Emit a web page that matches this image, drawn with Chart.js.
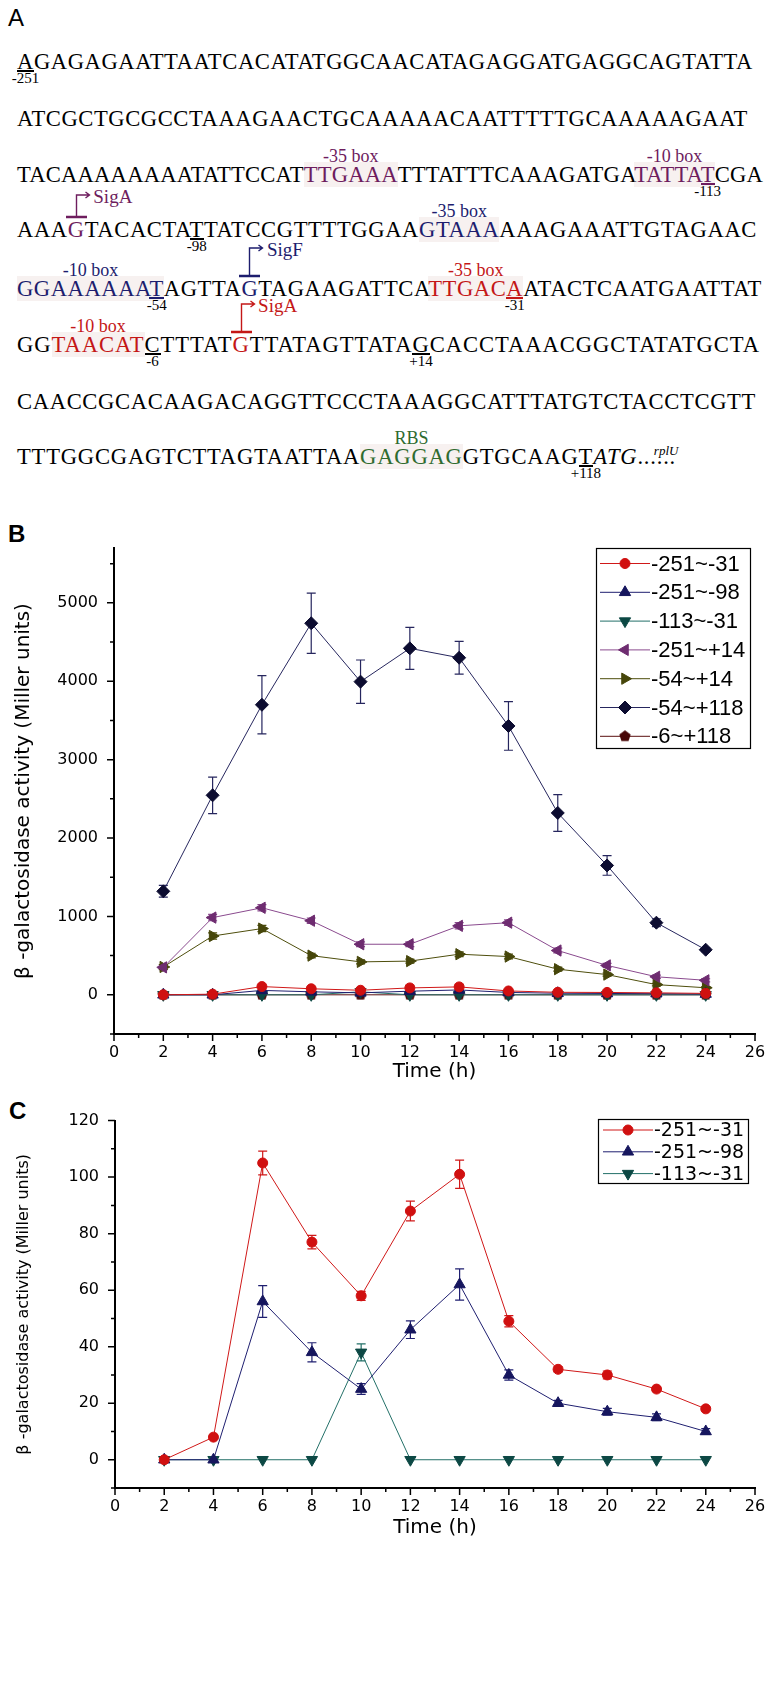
<!DOCTYPE html>
<html>
<head>
<meta charset="utf-8">
<script src="https://cdn.jsdelivr.net/npm/chart.js@4.4.1/dist/chart.umd.min.js"></script>
<style>
  html, body { margin: 0; padding: 0; background: #fff; }
  body { width: 775px; height: 1707px; position: relative; overflow: hidden; }
  .panel { position: absolute; font-family: "Liberation Sans", Arial, sans-serif; font-size: 24px; line-height: 1; color: #000; }
  .row { position: absolute; left: 17px; font-family: "Liberation Serif", "Times New Roman", serif; font-size: 22.6px;
         line-height: 1; white-space: nowrap; color: #000; }
  .box, .u, .tss, .dots { position: relative; }
  .box { background: rgba(228, 210, 206, 0.3); }
  .above { position: absolute; left: 50%; transform: translateX(-50%); top: -15px; font-size: 18px; line-height: 1; white-space: nowrap; letter-spacing: 0; }
  .below { position: absolute; left: 50%; transform: translateX(-50%); top: 22px; font-size: 15px; line-height: 1; color: #000; white-space: nowrap; letter-spacing: 0; }
  .u::after { content: ""; position: absolute; left: 0; right: 0; top: 21px; height: 1.5px; background: currentColor; }
  .sig { position: absolute; font-size: 19px; line-height: 1; white-space: nowrap; letter-spacing: 0; }
  .sup { position: absolute; left: 10px; top: 0; font-size: 13px; font-style: italic; line-height: 1; letter-spacing: 0; }
  .pu { color: #6e1d5e; }
  .nv { color: #1d1d6e; }
  .re { color: #c41717; }
  .gr { color: #2f6b2f; }
  canvas { position: absolute; left: 0; }
</style>
</head>
<body>

<div class="panel" style="left:8px; top:6px;">A</div>

<div class="row" data-end="753" style="top:51px"><span class="u">A<span class="below">-251</span></span>GAGAGAATTAATCACATATGGCAACATAGAGGATGAGGCAGTATTA</div>
<div class="row" data-end="748" style="top:108px">ATCGCTGCGCCTAAAGAACTGCAAAAACAATTTTTGCAAAAAGAAT</div>
<div class="row" data-end="763" style="top:164px">TACAAAAAAAATATTCCAT<span class="box pu">TTGAAA<span class="above">-35 box</span></span>TTTATTTCAAAGATGA<span class="box pu">TATTA<span class="u">T<span class="below">-113</span></span><span class="above">-10 box</span></span>CGA</div>
<div class="row" data-end="757" style="top:219px">AAA<span class="tss pu" data-h="21" data-label="SigA">G</span>TACACTA<span class="u">T<span class="below">-98</span></span>TATCCGTTTTGGAA<span class="box nv">GTAAA<span class="above">-35 box</span></span>AAAGAAATTGTAGAAC</div>
<div class="row" data-end="762" style="top:278px"><span class="box nv">GGAAAAAA<span class="u">T<span class="below">-54</span></span><span class="above">-10 box</span></span>AGTTA<span class="tss nv" data-h="27" data-label="SigF">G</span>TAGAAGATTCA<span class="box re">TTGAC<span class="u">A<span class="below">-31</span></span><span class="above">-35 box</span></span>ATACTCAATGAATTAT</div>
<div class="row" data-end="760" style="top:334px">GG<span class="box re">TAACAT<span class="above">-10 box</span></span><span class="u">C<span class="below">-6</span></span>TTTAT<span class="tss re" data-h="27" data-label="SigA">G</span>TTATAGTTATA<span class="u">G<span class="below">+14</span></span>CACCTAAACGGCTATATGCTA</div>
<div class="row" data-end="756" style="top:391px">CAACCGCACAAGACAGGTTCCCTAAAGGCATTTATGTCTACCTCGTT</div>
<div class="row" data-end="676" style="top:446px">TTTGGCGAGTCTTAGTAATTAA<span class="box gr">GAGGAG<span class="above">RBS</span></span>GTGCAAG<span class="u">T<span class="below">+118</span></span><i>ATG</i>.<span class="dots">.....<span class="sup">rplU</span></span></div>

<div class="panel" style="left:8px; top:522px; font-weight:bold;">B</div>
<canvas id="chartB" width="775" height="575" style="top:520px"></canvas>

<div class="panel" style="left:9px; top:1099px; font-weight:bold;">C</div>
<canvas id="chartC" width="775" height="455" style="top:1095px"></canvas>

<script>
// Sampling times (h)
const hours = [2, 4, 6, 8, 10, 12, 14, 16, 18, 20, 22, 24];

// Labelled tick values
const xTicks = [0, 2, 4, 6, 8, 10, 12, 14, 16, 18, 20, 22, 24, 26];
const bTicks = [0, 1000, 2000, 3000, 4000, 5000];
const cTicks = [0, 20, 40, 60, 80, 100, 120];

// Minor tick values
const xMinorTicks = [1, 3, 5, 7, 9, 11, 13, 15, 17, 19, 21, 23, 25];
const bMinorTicks = [-500, 500, 1500, 2500, 3500, 4500, 5500];
const cMinorTicks = [-10, 10, 30, 50, 70, 90, 110];

// Series values (Miller units) and their error bars
const s251to31 = [0, 8, 105, 77, 58, 88, 101, 49, 32, 30, 25, 18];
const s251to31Err = [0, 0.5, 4.2, 2.4, 1.6, 3.5, 5, 2, 0.9, 1.4, 0.9, 0.5];
const s251to98 = [0, 0, 56, 38, 25, 46, 62, 30, 20, 17, 15, 10];
const s251to98Err = [0, 0, 5.6, 3.4, 1.9, 3.1, 5.5, 1.8, 1, 1.2, 1.2, 1];
const s113to31 = [0, 0, 0, 0, 38, 0, 0, 0, 0, 0, 0, 0];
const s113to31Err = [0, 0, 0, 0, 3, 0, 0, 0, 0, 0, 0, 0];
const s251to14 = [350, 985, 1110, 945, 645, 645, 880, 920, 565, 375, 230, 185];
const s251to14Err = [30, 40, 40, 35, 30, 30, 40, 35, 30, 25, 20, 20];
const s54to14 = [355, 750, 845, 500, 420, 430, 518, 488, 327, 258, 130, 90];
const s54to14Err = [30, 40, 40, 30, 25, 25, 30, 30, 25, 20, 15, 15];
const s54to118 = [1320, 2545, 3700, 4740, 3995, 4420, 4300, 3430, 2320, 1650, 920, 575];
const s54to118Err = [75, 233, 371, 384, 276, 268, 210, 310, 235, 125, 50, 25];
const s6to118 = [0, 0, 0, 0, 0, 0, 0, 0, 0, 0, 0, 0];

/**
 * Stretch each sequence row so it ends where the original row ends
 */
function fitRows() {
  document.querySelectorAll('.row').forEach(row => {
    const clone = row.cloneNode(true);
    clone.querySelectorAll('.above, .below, .sig, .sup').forEach(n => n.remove());
    const count = clone.textContent.length;
    const natural = row.getBoundingClientRect().width;
    const target = +row.dataset.end - 17;
    row.style.letterSpacing = ((target - natural) / count).toFixed(3) + 'px';
  });
}

/**
 * Promoter arrows (bar over the start base, bent arrow and sigma label)
 */
function drawPromoters() {
  const ns = 'http://www.w3.org/2000/svg';
  document.querySelectorAll('.tss').forEach(el => {
    const h = +el.dataset.h;
    const w = el.offsetWidth;
    const cx = w / 2 + 2;
    const svg = document.createElementNS(ns, 'svg');
    svg.setAttribute('width', w + 30);
    svg.setAttribute('height', h + 8);
    svg.style.cssText = `position:absolute;left:-2px;top:${-(h + 4)}px;overflow:visible`;
    const bar = document.createElementNS(ns, 'path');
    bar.setAttribute('d', `M0 ${h + 4} H${w + 4}`);
    bar.setAttribute('stroke', 'currentColor');
    bar.setAttribute('stroke-width', '2.5');
    const arrow = document.createElementNS(ns, 'path');
    arrow.setAttribute('d', `M${cx} ${h + 4} V3 H${cx + 13} M${cx + 9} 0 L${cx + 13} 3 L${cx + 9} 6`);
    arrow.setAttribute('stroke', 'currentColor');
    arrow.setAttribute('stroke-width', '1.4');
    arrow.setAttribute('fill', 'none');
    svg.appendChild(bar);
    svg.appendChild(arrow);
    el.appendChild(svg);

    const label = document.createElement('span');
    label.className = 'sig';
    label.textContent = el.dataset.label;
    label.style.left = (w / 2 + 17) + 'px';
    label.style.top = (-h - 9) + 'px';
    el.appendChild(label);
  });
}

/**
 * Pentagon marker used by the -6~+118 series
 */
function pentagon(color, r) {
  const c = document.createElement('canvas');
  c.width = c.height = 2 * r + 4;
  const ctx = c.getContext('2d');
  ctx.fillStyle = color;
  ctx.beginPath();
  for (let k = 0; k < 5; k++) {
    const a = -Math.PI / 2 + k * 2 * Math.PI / 5;
    const px = r + 2 + r * Math.cos(a);
    const py = r + 2 + r * Math.sin(a);
    if (k === 0) ctx.moveTo(px, py); else ctx.lineTo(px, py);
  }
  ctx.closePath();
  ctx.fill();
  return c;
}

function series(label, values, errors, style) {
  return {
    label,
    data: hours.map((h, i) => ({ x: h, y: values[i] })),
    errors,
    borderColor: style.line,
    backgroundColor: style.mark,
    pointBackgroundColor: style.mark,
    pointBorderColor: style.mark,
    pointStyle: style.shape,
    pointRotation: style.rotation || 0,
    pointRadius: style.radius,
    pointHoverRadius: style.radius,
    borderWidth: 1,
    tension: 0,
    fill: false,
  };
}

// Error bars drawn below the markers
const errorBars = {
  id: 'errorBars',
  beforeDatasetsDraw(chart) {
    const { ctx, scales: { x, y } } = chart;
    ctx.save();
    ctx.lineWidth = 1.2;
    chart.data.datasets.forEach(ds => {
      if (!ds.errors) return;
      ctx.strokeStyle = ds.borderColor;
      ds.data.forEach((pt, i) => {
        const e = ds.errors[i];
        if (!e) return;
        const px = x.getPixelForValue(pt.x);
        const top = y.getPixelForValue(pt.y + e);
        const bot = y.getPixelForValue(pt.y - e);
        ctx.beginPath();
        ctx.moveTo(px, top);
        ctx.lineTo(px, bot);
        ctx.moveTo(px - 4.5, top);
        ctx.lineTo(px + 4.5, top);
        ctx.moveTo(px - 4.5, bot);
        ctx.lineTo(px + 4.5, bot);
        ctx.stroke();
      });
    });
    ctx.restore();
  },
};

// Outward major and minor tick marks
const axisTicks = {
  id: 'axisTicks',
  afterDraw(chart, args, o) {
    const { ctx, chartArea, scales: { x, y } } = chart;
    ctx.save();
    ctx.strokeStyle = '#000';
    ctx.lineWidth = 1.5;
    ctx.beginPath();
    x.ticks.forEach(t => {
      const p = x.getPixelForValue(t.value);
      ctx.moveTo(p, chartArea.bottom);
      ctx.lineTo(p, chartArea.bottom + o.major);
    });
    o.xMinor.forEach(v => {
      const p = x.getPixelForValue(v);
      ctx.moveTo(p, chartArea.bottom);
      ctx.lineTo(p, chartArea.bottom + o.minor);
    });
    y.ticks.forEach(t => {
      const p = y.getPixelForValue(t.value);
      ctx.moveTo(chartArea.left, p);
      ctx.lineTo(chartArea.left - o.major, p);
    });
    o.yMinor.forEach(v => {
      const p = y.getPixelForValue(v);
      ctx.moveTo(chartArea.left, p);
      ctx.lineTo(chartArea.left - o.minor, p);
    });
    ctx.stroke();
    ctx.restore();
  },
};

// Framed legend with a line through each marker
const boxLegend = {
  id: 'boxLegend',
  afterDraw(chart, args, o) {
    const ctx = chart.ctx;
    ctx.save();
    ctx.fillStyle = '#fff';
    ctx.fillRect(o.left, o.top, o.width, o.height);
    ctx.strokeStyle = '#000';
    ctx.lineWidth = 1.2;
    ctx.strokeRect(o.left + 0.5, o.top + 0.5, o.width, o.height);
    ctx.font = o.font;
    ctx.textBaseline = 'middle';
    chart.data.datasets.forEach((ds, i) => {
      const y = o.firstRow + i * o.rowHeight;
      ctx.strokeStyle = ds.borderColor;
      ctx.lineWidth = 1;
      ctx.beginPath();
      ctx.moveTo(o.lineFrom, y);
      ctx.lineTo(o.lineTo, y);
      ctx.stroke();
      ctx.fillStyle = ds.pointBackgroundColor;
      ctx.strokeStyle = ds.pointBorderColor;
      Chart.helpers.drawPoint(ctx, {
        pointStyle: ds.pointStyle,
        rotation: ds.pointRotation,
        radius: ds.pointRadius,
        borderWidth: 1,
      }, (o.lineFrom + o.lineTo) / 2, y);
      ctx.fillStyle = '#000';
      ctx.fillText(ds.label, o.textX, y + 1);
    });
    ctx.restore();
  },
};

const styles = {
  red: { line: '#d01818', mark: '#d01010', shape: 'circle', radius: 5 },
  navy: { line: '#1f1f70', mark: '#16165e', shape: 'triangle', radius: 6.5 },
  teal: { line: '#237068', mark: '#0c4844', shape: 'triangle', rotation: 180, radius: 6.5 },
  purple: { line: '#8a4a8e', mark: '#6e2c70', shape: 'triangle', rotation: -90, radius: 6.5 },
  olive: { line: '#4e4e0c', mark: '#46460a', shape: 'triangle', rotation: 90, radius: 6.5 },
  diamond: { line: '#26265e', mark: '#0c0c30', shape: 'rectRot', radius: 6.5 },
  brown: { line: '#5a1010', mark: '#480606', shape: pentagon('#480606', 6), radius: 6 },
};

function axes(yMin, yMax, yTicks, yWidth, xHeight, titleBottom, yTitleSize) {
  const family = '"DejaVu Sans", Verdana, sans-serif';
  const tickFont = { family, size: 16 };
  return {
    x: {
      type: 'linear',
      bounds: 'data',
      min: 0,
      max: 26,
      afterBuildTicks(scale) { scale.ticks = xTicks.map(v => ({ value: v })); },
      ticks: { autoSkip: false, maxRotation: 0, color: '#000', font: tickFont, padding: 9, callback: v => String(v) },
      grid: { drawOnChartArea: false, drawTicks: false },
      border: { display: true, color: '#000', width: 2 },
      title: { display: true, text: 'Time (h)', color: '#000', font: { family, size: 20 }, padding: { top: 0, bottom: titleBottom } },
      afterFit(scale) { scale.height = xHeight; },
    },
    y: {
      type: 'linear',
      bounds: 'data',
      min: yMin,
      max: yMax,
      afterBuildTicks(scale) { scale.ticks = yTicks.map(v => ({ value: v })); },
      ticks: { autoSkip: false, color: '#000', font: tickFont, padding: 16, callback: v => String(v) },
      grid: { drawOnChartArea: false, drawTicks: false },
      border: { display: true, color: '#000', width: 2 },
      title: {
        display: true,
        text: 'β -galactosidase activity (Miller units)',
        color: '#000',
        font: { family, size: yTitleSize },
        padding: { top: 24 - yTitleSize * 0.6, bottom: 0 },
      },
      afterFit(scale) { scale.width = yWidth; },
    },
  };
}

function initCharts() {
  fitRows();
  drawPromoters();

  new Chart(document.getElementById('chartB'), {
    type: 'line',
    data: {
      datasets: [
        series('-251~-31', s251to31, s251to31Err, styles.red),
        series('-251~-98', s251to98, s251to98Err, styles.navy),
        series('-113~-31', s113to31, s113to31Err, styles.teal),
        series('-251~+14', s251to14, s251to14Err, styles.purple),
        series('-54~+14', s54to14, s54to14Err, styles.olive),
        series('-54~+118', s54to118, s54to118Err, styles.diamond),
        series('-6~+118', s6to118, null, styles.brown),
      ],
    },
    options: {
      responsive: false,
      animation: false,
      layout: { padding: { top: 28, right: 20, bottom: 0, left: 0 } },
      scales: axes(-500, 5700, bTicks, 114, 61, 11, 20),
      plugins: {
        legend: { display: false },
        tooltip: { enabled: false },
        axisTicks: { major: 7, minor: 4, xMinor: xMinorTicks, yMinor: bMinorTicks },
        boxLegend: {
          left: 596, top: 28, width: 154, height: 200,
          firstRow: 43.5, rowHeight: 28.8,
          lineFrom: 600, lineTo: 650, textX: 651,
          font: '22px "Liberation Sans", Arial, sans-serif',
        },
      },
    },
    plugins: [errorBars, axisTicks, boxLegend],
  });

  new Chart(document.getElementById('chartC'), {
    type: 'line',
    data: {
      datasets: [
        series('-251~-31', s251to31, s251to31Err, styles.red),
        series('-251~-98', s251to98, s251to98Err, styles.navy),
        series('-113~-31', s113to31, s113to31Err, styles.teal),
      ],
    },
    options: {
      responsive: false,
      animation: false,
      layout: { padding: { top: 21, right: 20, bottom: 0, left: 0 } },
      scales: axes(-10, 120, cTicks, 115, 62, 10, 16),
      plugins: {
        legend: { display: false },
        tooltip: { enabled: false },
        axisTicks: { major: 7, minor: 4, xMinor: xMinorTicks, yMinor: cMinorTicks },
        boxLegend: {
          left: 598, top: 24, width: 150, height: 64,
          firstRow: 35, rowHeight: 21.8,
          lineFrom: 603, lineTo: 653, textX: 654,
          font: '19px "DejaVu Sans", Verdana, sans-serif',
        },
      },
    },
    plugins: [errorBars, axisTicks, boxLegend],
  });
}

document.addEventListener('DOMContentLoaded', () => {
  document.fonts.ready.then(initCharts);
});
</script>
</body>
</html>
